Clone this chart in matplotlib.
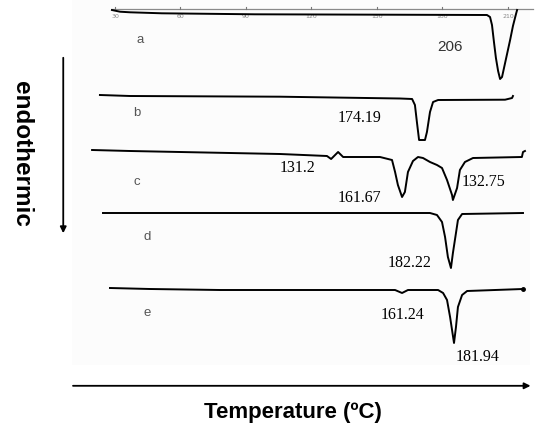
import matplotlib.pyplot as plt
from matplotlib.patches import Rectangle

# DSC curves (temperature in C, heat flow relative to each baseline, arbitrary units)
temp_a = [28.6, 32.3, 36.9, 51.5, 94.1, 200.4, 201.8, 202.7, 203.6, 204.5, 205.5, 206.4,
          207.3, 208.2, 209.6, 211.0, 212.3, 213.7, 214.2]
flow_a = [0, -1.7, -2.3, -3.3, -4.3, -5, -7, -15, -32, -48, -61, -69,
          -67, -58, -44, -30, -16, -4, 0]

temp_b = [23.1, 36.9, 105.6, 160.6, 166.1, 167.4, 168.3, 169.3, 172.0, 172.9, 174.3,
          175.7, 178.0, 208.7, 211.9, 212.3]
flow_b = [0, -1, -1.7, -3.5, -4, -10, -27, -45, -45, -37, -17, -7, -5, -4.7, -3, -1]

temp_c = [19.5, 36.9, 105.6, 127.1, 129.0, 132.2, 134.5, 151.4, 156.9, 158.3, 159.6,
          161.5, 162.8, 164.2, 166.5, 168.8, 171.1, 174.3, 177.5, 179.8, 182.1, 184.4,
          184.8, 186.7, 188.0, 190.3, 194.0, 216.4, 216.9, 217.8]
flow_c = [0, -1, -4, -6, -9, -2, -7, -7, -10, -22, -35, -47, -42, -22, -11, -7, -8,
          -12, -15, -18, -30, -45, -50, -38, -20, -12, -8, -7, -2, -1]

temp_d = [24.5, 174.3, 177.5, 179.8, 181.2, 182.5, 183.9, 184.8, 186.2, 187.1, 189.0, 216.9]
flow_d = [0, 0, -2, -9, -24, -44, -55, -40, -20, -7, -1, 0]

temp_e = [27.7, 46.0, 78.1, 158.3, 161.5, 164.2, 178.0, 180.3, 182.1, 183.5, 184.4,
          185.3, 186.2, 187.1, 189.0, 191.3, 216.9]
flow_e = [0, -1, -2, -2, -5, -2, -2, -5, -12, -29, -42, -55, -39, -19, -7, -3, -1]

offsets = {'a': 423, 'b': 338, 'c': 283, 'd': 220, 'e': 145}

top_ticks = [30, 60, 90, 120, 150, 180, 210]

# letter labels and peak labels (temperature, y)
letters = {'a': (41.5, 393), 'b': (40.1, 320), 'c': (40.1, 251), 'd': (44.7, 196), 'e': (44.7, 120)}
peak_labels = [('174.19', 142.2, 315), ('131.2', 113.4, 265), ('161.67', 142.2, 235),
               ('132.75', 198.6, 251), ('182.22', 165.1, 170), ('161.24', 161.9, 118),
               ('181.94', 196.3, 76)]

fig = plt.figure(figsize=(5.36, 4.33), dpi=100)
ax = fig.add_axes([0, 0, 1, 1])
ax.set_xlim(-22.68, 222.86)
ax.set_ylim(0, 433)
ax.axis('off')

# faint panel background
ax.add_patch(Rectangle((0.134, 0.157), 0.855, 0.843, transform=ax.transAxes,
                       facecolor='#fcfcfc', edgecolor='none', zorder=0))

# top temperature scale
ax.plot([28.6, 221.5], [424, 424], color='#8a8a8a', lw=0.9, zorder=1)
for t in top_ticks:
    ax.plot([t, t], [424, 426], color='#777777', lw=0.8)
    ax.text(t, 416, str(t), fontsize=4.5, color='#888888', ha='center', va='center')

curves = [('a', temp_a, flow_a), ('b', temp_b, flow_b), ('c', temp_c, flow_c),
          ('d', temp_d, flow_d), ('e', temp_e, flow_e)]
for name, t, f in curves:
    ax.plot(t, [offsets[name] + v for v in f], color='black', lw=1.4,
            solid_joinstyle='round', zorder=3)
    lx, ly = letters[name]
    ax.text(lx, ly, name, fontsize=9.5, color='#555555', ha='center', va='center',
            family='Liberation Sans')

ax.plot(temp_e[-1], offsets['e'] + flow_e[-1], 'o', color='black', ms=2.5)

ax.text(183.5, 386, '206', fontsize=11, color='#333333', ha='center', va='center',
        family='Liberation Sans')
for txt, x, y in peak_labels:
    ax.text(x, y, txt, fontsize=11.5, color='black', ha='center', va='center',
            family='Liberation Serif')

# arrows
ax.annotate('', xy=(0.995, 0.109), xytext=(0.131, 0.109), xycoords='axes fraction',
            arrowprops=dict(arrowstyle='-|>', color='black', lw=1.3, mutation_scale=9))
ax.annotate('', xy=(0.118, 0.455), xytext=(0.118, 0.873), xycoords='axes fraction',
            arrowprops=dict(arrowstyle='-|>', color='black', lw=1.3, mutation_scale=9))

ax.text(0.547, 0.048, 'Temperature (ºC)', transform=ax.transAxes, fontsize=16,
        fontweight='bold', ha='center', va='center', family='Liberation Sans')
ax.text(0.041, 0.644, 'endothermic', transform=ax.transAxes, fontsize=17.5,
        fontweight='bold', ha='center', va='center', rotation=-90, family='Liberation Sans')

fig.savefig('out.png', dpi=100)
